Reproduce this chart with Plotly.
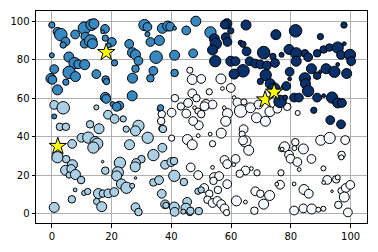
import plotly.graph_objects as go

# ---- cluster: medium blue (top-left) ----
med_x = [0, 1.9, 3.0, 4.6, 3.8, 7.8, 10.9, 13.3, 14.1, 11.2, 11.0, 13.0, 13.6, 17.8, 17.0, 17.9, 20.1, 19.0,
         21.0, 0, 5.7, 7.6, 8.8, 11.0, 0.8, 5.8, 7.9, 14.9, -0.3, 0.2, 4.7, 18.0, 18.3, 1.9, 17.9, 18.2,
         20.3, 22.6, 21.7, 0.8, 25.9, 27.0, 28.0, 29.0, 28.0, 27.0, 26.9, 31.0, 32.0, 32.0, 33.0, 36.0,
         37.0, 38.8, 39.6, 41.1, 45.0, 48.2, 34.9, 41.1, 47.3, 34.0, 33.0, 41.1, 36.4, 53.1]
med_y = [98, 94.5, 93.0, 89.4, 87.6, 93.1, 96.4, 98.1, 98.7, 92.0, 88.3, 89.7, 88.3, 96.0, 94.5, 91.2, 89.2, 87.4,
         78.3, 82.3, 81.4, 78.2, 77.6, 77.4, 75.1, 73.4, 71.2, 72.5, 70.2, 69.5, 68.3, 69.7, 68.6, 64.3, 60.4, 59.6,
         56.9, 56.1, 55.5, 50.5, 88.2, 83.6, 82.6, 79.4, 75.3, 70.4, 61.2, 98.0, 97.0, 93.2, 89.2, 90.0,
         96.3, 97.5, 97.2, 96.3, 95.2, 100.0, 81.3, 82.3, 83.3, 74.2, 70.3, 73.1, 55.0, 94.2]
med_s = [5, 7, 10, 7, 5, 7, 10, 9, 8, 7, 7, 10, 8, 7, 3, 5, 7, 4,
         5, 4, 8, 9, 7, 8, 7, 10, 8, 7, 8, 7, 5, 6, 5, 8, 8, 7,
         4, 7, 7, 4, 7, 8, 8, 7, 6, 8, 8, 9, 7, 4, 7, 8,
         8, 8, 7, 3, 7, 8, 10, 8, 7, 7, 6, 6, 5, 9]

# ---- cluster: light blue (bottom-left) ----
lig_x = [0.8, 3.8, 14.9, 18.8, 21.0, 23.9, 2.7, 4.7, 12.8, 15.8, 9.9, 12.2, 14.5, 15.2, 13.9, 6.8, 1.9, 4.8,
         6.9, 4.6, 6.5, 5.8, 7.9, 9.8, 17.0, 17.9, 22.8, 22.1, 21.7, 23.3, 25.0, 26.9, 7.8, 10.8, 12.0, 15.6,
         17.1, 18.9, 20.9, 15.0, 16.7, 6.7, 0.8, 24.9, 29.0, 28.0, 37.2, 32.1, 26.0, 37.0, 34.0, 30.0, 28.2,
         27.9, 37.9, 40.0, 40.9, 41.0, 28.0, 34.0, 35.9, 36.8, 28.0, 29.0, 37.9, 38.2, 41.0, 41.1, 45.3, 44.9,
         44.0, 46.2, 49.2, 48.9, 50.0, 44.2, 46.4]
lig_y = [56.5, 55.0, 55.2, 51.4, 49.2, 49.2, 45.1, 45.1, 46.4, 44.1, 39.4, 39.5, 37.5, 36.3, 34.3, 36.2, 29.3, 28.3,
         25.4, 22.5, 23.2, 20.0, 20.3, 17.4, 27.0, 22.3, 26.4, 21.4, 19.6, 15.4, 13.4, 14.4, 12.3, 10.7, 11.5, 10.4,
         10.4, 10.5, 11.2, 6.3, 3.6, 7.4, 3.2, 43.9, 45.6, 43.0, 44.0, 39.4, 35.8, 34.2, 30.4, 28.3, 26.3,
         24.3, 25.4, 26.8, 27.3, 19.6, 18.5, 16.2, 17.4, 10.3, 3.3, 0.8, 4.8, 4.3, 3.4, 0.9, 6.1, 2.8,
         1.0, 0.5, 1.3, 11.6, 12.3, 16.4, 1.4]
lig_s = [7, 10, 4, 7, 7, 5, 6, 6, 6, 8, 7, 9, 8, 9, 9, 7, 9, 6,
         8, 8, 7, 5, 8, 6, 2, 6, 9, 9, 8, 8, 9, 4, 3, 4, 5, 8,
         6, 7, 7, 5, 8, 6, 8, 5, 9, 8, 6, 9, 8, 7, 9, 6, 7,
         8, 7, 7, 6, 9, 2, 6, 7, 7, 7, 6, 7, 5, 8, 7, 7, 8,
         4, 5, 6, 5, 5, 6, 6]

# ---- cluster: white (bottom-right) ----
wht_x = [46.2, 47.0, 50.0, 47.0, 41.2, 43.2, 45.6, 48.4, 40.1, 45.0, 47.8, 48.9, 50.0, 36.8, 35.9, 56.6, 52.7,
         57.1, 59.9, 51.6, 53.8, 51.1, 57.7, 61.0, 62.1, 64.3, 63.2, 66.5, 69.2, 58.8, 73.0, 75.5, 77.9, 78.8,
         82.3, 68.5, 71.5, 56.7, 53.0, 58.2, 53.8, 64.2, 63.7, 64.8, 64.0, 65.9, 57.8, 58.7, 61.5, 60.9, 53.8,
         64.8, 62.9, 66.8, 68.7, 76.9, 76.7, 54.3, 56.0, 54.1, 58.7, 51.0, 52.7, 55.6, 52.1, 53.8, 55.4, 56.7,
         57.8, 58.5, 61.8, 64.8, 68.1, 69.8, 72.9, 70.9, 67.8, 76.4, 75.3, 36.6, 36.8, 40.1, 45.4, 47.0, 49.0,
         49.2, 47.3, 46.5, 49.0, 90.0, 93.0, 98.2, 81.5, 77.9, 81.2, 84.2, 79.4, 79.9, 82.2, 86.9, 97.0, 96.9,
         82.8, 90.9, 92.2, 95.2, 95.7, 91.0, 81.1, 84.4, 86.0, 93.8, 96.8, 98.4, 99.9, 97.9, 95.9, 81.1, 84.2,
         87.0, 89.2, 90.9, 99.1, 77.1]
wht_y = [74.5, 69.7, 70.0, 62.5, 60.0, 55.7, 57.5, 60.0, 52.5, 52.0, 55.0, 53.3, 51.7, 51.7, 54.2, 70.0, 63.3,
         65.0, 65.3, 56.7, 56.7, 55.8, 55.0, 60.3, 57.8, 58.0, 53.3, 55.0, 56.7, 52.0, 53.0, 54.5, 56.4, 55.5,
         52.3, 49.8, 48.0, 41.8, 41.3, 48.0, 36.3, 43.9, 41.3, 37.5, 38.0, 32.9, 27.9, 25.7, 28.4, 25.4, 24.0,
         22.4, 20.7, 23.4, 21.2, 33.8, 21.2, 19.0, 19.5, 17.0, 15.3, 13.3, 10.3, 12.3, 7.2, 5.5, 6.6, 4.9,
         2.7, 0.5, 6.6, 6.0, 11.6, 10.3, 9.4, 4.9, 1.5, 15.0, 15.3, 48.1, 44.2, 39.2, 38.5, 35.8, 40.5,
         45.9, 48.1, 24.0, 20.0, 38.1, 39.3, 38.2, 37.1, 34.7, 34.0, 33.6, 30.6, 28.5, 26.8, 28.4, 30.5, 29.2,
         22.9, 23.5, 17.5, 17.8, 18.8, 16.1, 15.4, 12.5, 10.3, 11.6, 11.9, 13.3, 14.9, 8.6, 4.5, 1.6, 2.7,
         2.4, 2.0, 2.5, 0.6, 33.5]
wht_s = [5, 8, 7, 7, 6, 6, 7, 6, 7, 7, 3, 5, 6, 6, 3, 8, 5,
         3, 7, 8, 7, 7, 3, 3, 7, 5, 10, 8, 7, 8, 8, 7, 3, 6,
         4, 8, 8, 8, 3, 8, 5, 7, 5, 9, 7, 8, 7, 7, 7, 3, 3,
         7, 6, 3, 5, 5, 5, 7, 7, 6, 7, 7, 6, 6, 6, 7, 7, 7,
         7, 5, 8, 3, 7, 6, 8, 8, 6, 7, 3, 6, 5, 5, 8, 8, 3,
         7, 7, 7, 7, 8, 9, 7, 6, 8, 4, 8, 7, 7, 7, 7, 6, 4,
         3, 4, 7, 6, 4, 3, 3, 8, 7, 2, 5, 7, 7, 8, 6, 7, 7,
         8, 4, 4, 7, 3]

# ---- cluster: dark blue (top-right) ----
drk_x = [58.6, 57.9, 59.9, 65.0, 54.4, 54.9, 58.2, 58.8, 63.2, 64.0, 75.0, 53.8, 70.9, 74.0, 76.9, 54.7, 59.9,
         61.5, 64.0, 61.0, 66.2, 68.1, 69.8, 72.0, 71.6, 74.7, 69.8, 73.1, 74.4, 76.4, 77.5, 81.6, 97.8, 89.9,
         79.4, 81.8, 84.7, 85.8, 88.8, 91.0, 92.9, 95.7, 97.9, 96.8, 99.8, 100.2, 81.8, 86.9, 88.8, 89.9, 91.8,
         94.6, 98.7, 95.7, 79.6, 79.6, 84.7, 84.9, 78.5, 85.8, 81.1, 82.7, 88.8, 91.0, 93.8, 95.7, 97.1, 87.7,
         78.1, 93.2, 96.8, 65.2]
drk_y = [98.7, 98.2, 95.0, 98.0, 90.8, 88.3, 91.7, 89.2, 88.8, 88.0, 93.0, 85.0, 83.7, 81.7, 82.5, 79.2, 79.2,
         79.2, 74.2, 72.5, 79.2, 78.0, 77.5, 77.0, 72.0, 78.3, 68.7, 67.5, 64.7, 58.3, 65.8, 95.0, 98.0, 92.0,
         85.3, 83.3, 83.3, 81.3, 83.3, 85.3, 86.3, 86.3, 88.3, 82.5, 82.5, 79.2, 79.2, 75.3, 71.7, 73.7, 75.3,
         73.7, 72.8, 77.5, 73.7, 70.0, 70.3, 67.5, 66.3, 63.7, 60.3, 60.3, 60.3, 61.3, 60.3, 57.5, 57.5, 53.7,
         60.3, 48.6, 46.4, 84.3]
drk_s = [8, 7, 5, 8, 8, 9, 7, 7, 4, 5, 8, 8, 10, 5, 4, 9, 8,
         7, 10, 8, 7, 7, 7, 7, 9, 7, 5, 8, 10, 10, 3, 10, 5, 5,
         8, 9, 6, 7, 6, 6, 6, 9, 3, 7, 9, 7, 8, 8, 6, 3, 8,
         9, 8, 3, 7, 3, 9, 8, 7, 9, 7, 7, 7, 3, 9, 8, 7, 5,
         4, 7, 7, 7]

# ---- centroids ----
cen_x = [18.2, 2.0, 71.4, 74.4]
cen_y = [83.8, 35.0, 59.2, 63.2]

colors = {"white": "#f7fbff", "light": "#abd0e6", "medium": "#3787c0", "dark": "#08306b"}
SCALE = 1.25

fig = go.Figure()
for xs, ys, ss, key in [(wht_x, wht_y, wht_s, "white"), (lig_x, lig_y, lig_s, "light"),
                         (med_x, med_y, med_s, "medium"), (drk_x, drk_y, drk_s, "dark")]:
    fig.add_trace(go.Scatter(
        x=xs, y=ys, mode="markers", showlegend=False,
        marker=dict(size=[s * SCALE for s in ss], color=colors[key], opacity=1,
                    line=dict(color="black", width=1)),
    ))

fig.add_trace(go.Scatter(
    x=cen_x, y=cen_y, mode="markers", showlegend=False,
    marker=dict(symbol="star", size=13, color="yellow", opacity=1,
                line=dict(color="black", width=1)),
))

axis_common = dict(
    showgrid=True, gridcolor="#b0b0b0", gridwidth=0.8,
    zeroline=False, showline=True, linecolor="black", linewidth=1, mirror=True,
    ticks="outside", ticklen=3.5, tickwidth=0.8, tickcolor="black",
    tickfont=dict(family="DejaVu Sans", size=10, color="black"),
)
fig.update_xaxes(range=[-5.3, 105.5], tickvals=[0, 20, 40, 60, 80, 100], **axis_common)
fig.update_yaxes(range=[-4.9, 105.3], tickvals=[0, 20, 40, 60, 80, 100], **axis_common)

fig.update_layout(
    width=378, height=252,
    margin=dict(l=33, r=10, t=10, b=24),
    paper_bgcolor="white", plot_bgcolor="white",
)

fig.write_html("out.html")
